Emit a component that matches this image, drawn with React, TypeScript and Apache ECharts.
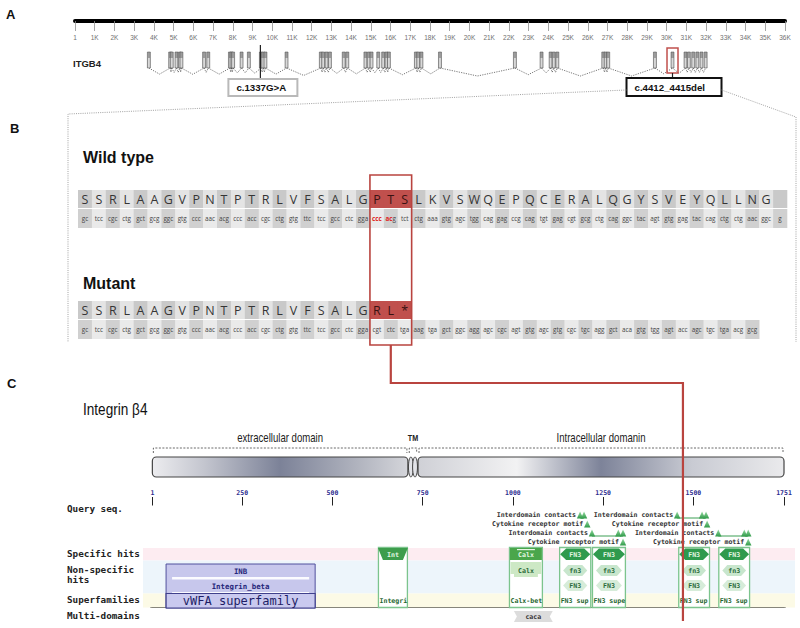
import React, { useEffect, useRef } from 'react';
import * as echarts from 'echarts';

// ---------------- Panel A: ITGB4 gene model (positions in bp) ----------------
const genomeLength = 36000;
const genomeTickStep = 1000;
const exonStarts = [
  3670, 4750, 4830, 5070, 5240, 5320, 6470, 6680, 7780, 7860, 7940, 8370, 8740,
  9350, 9470, 9580, 10650, 12390, 12510, 12680, 12850, 13550, 13730, 14650, 14820,
  14960, 15300, 15550, 15720, 15840, 17210, 17330, 17490, 18430, 22230, 23580,
  24040, 24200, 24380, 26710, 26830, 26960, 29330, 30220, 30880, 31050, 31270,
  31480, 31690, 31900,
];
const mutationPositions = [9400, 30220];
const mutationLabels = ['c.1337G>A', 'c.4412_4415del'];

// ---------------- Panel B: sequences ----------------
const wildTypeAA = [...'SSRLAAGVPNTPTRLVFSALGPTSLKVSWQEPQCERALQGYSVEYQLLNG', ''];
const wildTypeCodons = 'gc tcc cgc ctg gct gcg ggc gtg ccc aac acg ccc acc cgc ctg gtg ttc tcc gcc ctc gga ccc acg tct ctg aaa gtg agc tgg cag gag ccg cag tgt gag cgt gcg ctg cag ggc tac agt gtg gag tac cag ctg ctg aac ggc g'.split(' ');
const mutantAA = [...'SSRLAAGVPNTPTRLVFSALGRL*'];
const mutantCodons = 'gc tcc cgc ctg gct gcg ggc gtg ccc aac acg ccc acc cgc ctg gtg ttc tcc gcc ctc gga cgt ctc tga aag tga gct ggc agg agc cgc agt gtg agc gtg cgc tgc agg gct aca gtg tgg agt acc agc tgc tga acg gcg'.split(' ');
const changedColumns = [21, 22, 23];
const deletedCodonChars: Record<number, number> = { 21: 3, 22: 2 };

// ---------------- Panel C: protein ----------------
const proteinLength = 1751;
const proteinLabelTicks = [1, 250, 500, 750, 1000, 1250, 1500, 1751];
const proteinMinorStep = 50;
const mutationResidue = 1471;
const regionNames = ['extracellular domain', 'TM', 'Intracellular domanin'];
const regionStarts = [1, 710, 737];
const regionEnds = [709, 736, 1751];

const siteLabels = [
  'Interdomain contacts', 'Interdomain contacts',
  'Cytokine receptor motif', 'Cytokine receptor motif',
  'Interdomain contacts', 'Interdomain contacts',
  'Cytokine receptor motif', 'Cytokine receptor motif',
];
const siteRows = [0, 0, 1, 1, 2, 2, 3, 3];
const siteResidues = [
  [1186, 1197], [1455, 1524, 1535],
  [1206], [1538],
  [1219, 1292, 1305], [1569, 1641, 1652],
  [1305], [1652],
];

const specificLabels = ['Int', 'Calx', 'FN3', 'FN3', 'FN3', 'FN3'];
const specificShapes = ['trapezoid', 'rect', 'hexagon', 'hexagon', 'hexagon', 'hexagon'];
const specificStarts = [626, 989, 1128, 1219, 1458, 1569];
const specificEnds = [709, 1083, 1217, 1313, 1546, 1657];

const nonSpecificLabels = ['INB', 'Integrin_beta', 'Calx', 'fn3', 'FN3', 'fn3', 'FN3', 'fn3', 'FN3', 'fn3', 'FN3'];
const nonSpecificLanes = [0, 1, 0, 0, 1, 0, 1, 0, 1, 0, 1];
const nonSpecificStarts = [39, 39, 989, 1128, 1128, 1219, 1219, 1458, 1458, 1569, 1569];
const nonSpecificEnds = [452, 452, 1083, 1217, 1217, 1313, 1313, 1546, 1546, 1657, 1657];

const superfamilyLabels = ['vWFA superfamily', 'Integri', 'Calx-bet', 'FN3 sup', 'FN3 supe', 'FN3 sup', 'FN3 sup'];
const superfamilyStarts = [39, 626, 989, 1128, 1219, 1458, 1569];
const superfamilyEnds = [452, 709, 1083, 1217, 1313, 1546, 1657];

const multiDomainLabels = ['caca'];
const multiDomainStarts = [1011];
const multiDomainEnds = [1102];

// ---------------- layout / style ----------------
const FONT_MONO = '"DejaVu Sans Mono", monospace';
const FONT_SANS = '"Liberation Sans", Arial, sans-serif';
const FONT_SEQ = '"Open Sans", "Noto Sans", sans-serif';
const NARROW = 0.8;
const RED = '#c0504d';
const RED_LINE = '#b9443f';

const L = {
  exonTop: 52, exonBottom: 68, exonWidth: 3,
  boxBottom: 96,
  seqRows: [
    { top: 190, h: 18 }, { top: 209, h: 19 },
    { top: 301, h: 18 }, { top: 320, h: 19 },
  ],
  redFrameTop: 175, redFrameBottom: 345,
  connectorY: 383, connectorBottom: 621,
  frameLeft: 68, frameRight: 796, frameLeftTop: 114, frameRightTop: 117, frameBottom: 342, frameJoinY: 90,
  regionLabelY: 438, bracketY: 448, bracketFoot: 453, barTop: 457, barBottom: 477,
  siteRowY: [515, 524, 533, 542],
  specTop: 548, specBottom: 560,
  laneTop: [565, 580], laneBottom: [577, 592],
  sfTop: 594, sfBottom: 607.5,
  multiTop: 611, multiBottom: 622,
  columnTop: 547.5, columnBottom: 607.5,
  lavTop: 564, lavBottom: 608,
};

const MUT_STYLE = [
  { boxLeft: -32, boxWidth: 69, boxTop: 79, stroke: '#b9b9b9', lineFrom: 45, frame: false, dx: 0 },
  { boxLeft: -46, boxWidth: 95, boxTop: 78, stroke: '#111', lineFrom: 73, frame: true, dx: 1.5 },
];

const seqRowsData = [
  { cells: wildTypeAA, kind: 'aa', red: deletedCodonChars },
  { cells: wildTypeCodons, kind: 'codon', red: deletedCodonChars },
  { cells: mutantAA, kind: 'aa', red: {} as Record<number, number> },
  { cells: mutantCodons, kind: 'codon', red: {} as Record<number, number> },
];

const hexPts = (x1: number, x2: number, top: number, bot: number, tip: number) => {
  const mid = (top + bot) / 2;
  return [[x1, mid], [x1 + tip, top], [x2 - tip, top], [x2, mid], [x2 - tip, bot], [x1 + tip, bot]];
};

function buildOption() {
  const extraGrad = new echarts.graphic.LinearGradient(0, 0, 1, 0, [
    { offset: 0, color: '#ececef' }, { offset: 0.2, color: '#c4c6cf' },
    { offset: 0.5, color: '#7c8298' }, { offset: 0.8, color: '#b0b3be' }, { offset: 1, color: '#d4d5da' },
  ]);
  const intraGrad = new echarts.graphic.LinearGradient(0, 0, 1, 0, [
    { offset: 0, color: '#cfd0d6' }, { offset: 0.27, color: '#f2f2f3' },
    { offset: 0.5, color: '#7d8399' }, { offset: 0.75, color: '#c9cbd3' }, { offset: 1, color: '#eaeaec' },
  ]);

  const seqData: number[][] = [];
  seqRowsData.forEach((row, r) => row.cells.forEach((_, c) => seqData.push([c, r])));

  return {
    animation: false,
    backgroundColor: '#ffffff',
    grid: [
      { left: 75, width: 710, top: 0, height: 21 },
      { left: 78, width: 709, top: 0, height: 628 },
      { left: 152, width: 632, top: 505.5, height: 100 },
    ],
    xAxis: [
      {
        gridIndex: 0, type: 'value', min: 0, max: genomeLength, interval: genomeTickStep, position: 'bottom',
        axisLine: { lineStyle: { color: '#000', width: 4, cap: 'round' } },
        axisTick: { length: 10, lineStyle: { color: '#8f8f8f', width: 0.8 } },
        axisLabel: {
          fontSize: 6.5, color: '#707070', fontFamily: FONT_SANS, margin: 13,
          formatter: (v: number) => (v === 0 ? '1' : v / 1000 + 'K'),
        },
        splitLine: { show: false },
      },
      { gridIndex: 1, type: 'value', min: 0, max: 51, show: false },
      {
        gridIndex: 2, type: 'value', min: 0, max: proteinLength, interval: proteinMinorStep, position: 'top',
        axisLine: { lineStyle: { color: '#111', width: 5 } },
        axisTick: { length: 5.5, lineStyle: { color: '#222', width: 1 } },
        axisLabel: { show: false },
        splitLine: { show: false },
      },
      {
        gridIndex: 2, type: 'value', min: 0, max: proteinLength, position: 'top',
        axisLine: { show: false },
        axisTick: { show: true, length: 8.5, customValues: proteinLabelTicks, lineStyle: { color: '#222', width: 1 } },
        axisLabel: {
          customValues: proteinLabelTicks, fontSize: 6.5, color: '#2e2e8f', fontFamily: FONT_MONO,
          fontWeight: 'bold', margin: 9, formatter: (v: number) => String(v),
        },
        splitLine: { show: false },
      },
    ],
    yAxis: [
      { gridIndex: 0, type: 'value', min: 0, max: 1, show: false },
      { gridIndex: 1, type: 'value', min: 0, max: 1, show: false },
      { gridIndex: 2, type: 'value', min: 0, max: 1, show: false },
    ],
    series: [
      // introns
      {
        type: 'custom', xAxisIndex: 0, yAxisIndex: 0,
        data: exonStarts.slice(0, -1).map((s, i) => [s, exonStarts[i + 1]]),
        renderItem: (params: any, api: any) => {
          const x1 = api.coord([api.value(0), 0])[0] + L.exonWidth / 2;
          const x2 = api.coord([api.value(1), 0])[0] + L.exonWidth / 2;
          const depth = Math.min(8, 4 + (x2 - x1) * 0.1);
          return {
            type: 'polyline',
            shape: { points: [[x1, L.exonBottom], [(x1 + x2) / 2, L.exonBottom + depth], [x2, L.exonBottom]] },
            style: { stroke: '#555', lineWidth: 0.8, lineDash: [1.2, 1.2], fill: 'none' },
          };
        },
      },
      // exons
      {
        type: 'custom', xAxisIndex: 0, yAxisIndex: 0,
        data: exonStarts.map((s, i) => [s, i]),
        renderItem: (params: any, api: any) => {
          const x = api.coord([api.value(0), 0])[0];
          return {
            type: 'group',
            children: [
              {
                type: 'rect',
                shape: { x, y: L.exonTop, width: L.exonWidth, height: L.exonBottom - L.exonTop },
                style: { fill: '#9c9c9c', stroke: '#4a4a4a', lineWidth: 0.5 },
              },
              {
                type: 'rect',
                shape: { x: x + 0.6, y: L.exonTop + 6, width: L.exonWidth - 1.2, height: L.exonBottom - L.exonTop - 6.5 },
                style: { fill: '#d9d9d9' },
              },
            ],
          };
        },
      },
      // mutation markers
      {
        type: 'custom', xAxisIndex: 0, yAxisIndex: 0,
        data: mutationPositions.map((p, i) => [p, i]),
        renderItem: (params: any, api: any) => {
          const i = params.dataIndex;
          const st = MUT_STYLE[i];
          const x = api.coord([api.value(0), 0])[0] + st.dx;
          const children: any[] = [];
          if (st.frame) {
            children.push({
              type: 'rect', shape: { x: x - 5.5, y: 48, width: 11, height: 25 },
              style: { fill: 'none', stroke: RED, lineWidth: 1.5 },
            });
          }
          children.push({
            type: 'line', shape: { x1: x, y1: st.lineFrom, x2: x, y2: st.boxTop },
            style: { stroke: '#222', lineWidth: 1.2 },
          });
          children.push({
            type: 'rect',
            shape: { x: x + st.boxLeft, y: st.boxTop, width: st.boxWidth, height: L.boxBottom - st.boxTop },
            style: { fill: '#fff', stroke: st.stroke, lineWidth: 2 },
          });
          children.push({
            type: 'text',
            style: {
              text: mutationLabels[i], x: x + st.boxLeft + 8, y: (st.boxTop + L.boxBottom) / 2,
              align: 'left', verticalAlign: 'middle', fill: '#111',
              fontSize: 9.7, fontWeight: 'bold', fontFamily: FONT_SANS,
            },
          });
          return { type: 'group', children };
        },
      },
      // sequence cells
      {
        type: 'custom', xAxisIndex: 1, yAxisIndex: 1,
        data: seqData,
        renderItem: (params: any, api: any) => {
          const c = api.value(0) as number;
          const r = api.value(1) as number;
          const row = seqRowsData[r];
          const lay = L.seqRows[r];
          const x1 = api.coord([c, 0])[0];
          const x2 = api.coord([c + 1, 0])[0];
          const isAA = row.kind === 'aa';
          const changed = isAA && changedColumns.includes(c);
          const fill = changed ? RED : isAA ? (c % 2 === 0 ? '#c9c9c9' : '#e4e4e4') : (c % 2 === 0 ? '#d0d0d0' : '#eaeaea');
          const text = row.cells[c];
          const cx = (x1 + x2) / 2;
          const cy = lay.top + lay.h / 2;
          let textStyle: any;
          if (isAA) {
            textStyle = {
              text, x: cx, y: cy + 0.5, align: 'center', verticalAlign: 'middle',
              fill: changed ? '#3a1212' : '#353535', fontSize: 12.5, fontFamily: FONT_SEQ,
            };
          } else {
            const nRed = (row.red as any)[c] || 0;
            if (nRed > 0) {
              const a = text.slice(0, nRed);
              const b = text.slice(nRed);
              textStyle = {
                text: `{r|${a}}` + (b ? `{n|${b}}` : ''), x: cx, y: cy, align: 'center', verticalAlign: 'middle',
                rich: {
                  r: { fill: '#e0221b', fontSize: 6.3, fontFamily: FONT_SEQ, fontWeight: 'bold' },
                  n: { fill: '#444', fontSize: 6.3, fontFamily: FONT_SEQ },
                },
              };
            } else {
              textStyle = {
                text, x: cx, y: cy, align: 'center', verticalAlign: 'middle',
                fill: '#444', fontSize: 6.3, fontFamily: FONT_SEQ,
              };
            }
          }
          return {
            type: 'group',
            children: [
              { type: 'rect', shape: { x: x1, y: lay.top, width: x2 - x1 + 0.3, height: lay.h }, style: { fill } },
              { type: 'text', style: textStyle },
            ],
          };
        },
      },
      // red frame around changed columns
      {
        type: 'custom', xAxisIndex: 1, yAxisIndex: 1,
        data: [[changedColumns[0], changedColumns[changedColumns.length - 1] + 1]],
        renderItem: (params: any, api: any) => {
          const x1 = api.coord([api.value(0), 0])[0];
          const x2 = api.coord([api.value(1), 0])[0];
          return {
            type: 'rect', shape: { x: x1, y: L.redFrameTop, width: x2 - x1, height: L.redFrameBottom - L.redFrameTop },
            style: { fill: 'none', stroke: RED_LINE, lineWidth: 1.6 }, z2: 10,
          };
        },
      },
      // protein regions (bar + brackets + labels)
      {
        type: 'custom', xAxisIndex: 2, yAxisIndex: 2,
        data: regionStarts.map((s, i) => [s, regionEnds[i]]),
        renderItem: (params: any, api: any) => {
          const i = params.dataIndex;
          const xs = api.coord([api.value(0), 0])[0];
          const xe = api.coord([api.value(1), 0])[0];
          const children: any[] = [];
          children.push({
            type: 'polyline',
            shape: { points: [[xs + 1, L.bracketFoot], [xs + 1, L.bracketY], [xe - 1, L.bracketY], [xe - 1, L.bracketFoot]] },
            style: { stroke: '#444', lineWidth: 0.8, lineDash: [2, 1.5], fill: 'none' },
          });
          children.push({
            type: 'text',
            x: (xs + xe) / 2, y: L.regionLabelY, scaleX: NARROW,
            style: {
              text: regionNames[i], x: 0, y: 0, align: 'center', verticalAlign: 'middle',
              fontSize: i === 1 ? 9 : 12, fontWeight: i === 1 ? 'bold' : 'normal', fontFamily: FONT_SANS, fill: '#222',
            },
          });
          const cy = (L.barTop + L.barBottom) / 2;
          const ry = (L.barBottom - L.barTop) / 2;
          if (i === 1) {
            const w = xe - xs;
            [0.28, 0.72].forEach((f) => children.push({
              type: 'ellipse', shape: { cx: xs + w * f, cy, rx: w * 0.26, ry },
              style: { fill: '#e2e3e8', stroke: '#444', lineWidth: 1 },
            }));
          } else {
            children.push({
              type: 'rect',
              shape: { x: xs, y: L.barTop, width: xe - xs, height: L.barBottom - L.barTop, r: 4 },
              style: { fill: i === 0 ? extraGrad : intraGrad, stroke: '#444', lineWidth: 1.2 },
            });
          }
          return { type: 'group', children };
        },
      },
      // track bands
      {
        type: 'custom', xAxisIndex: 2, yAxisIndex: 2,
        data: [[0, proteinLength]],
        renderItem: (params: any, api: any) => {
          const x1 = api.coord([api.value(0), 0])[0] - 9;
          const x2 = api.coord([api.value(1), 0])[0] + 11;
          const band = (y1: number, y2: number, fill: string) => ({
            type: 'rect', shape: { x: x1, y: y1, width: x2 - x1, height: y2 - y1 }, style: { fill },
          });
          return {
            type: 'group',
            children: [
              band(L.specTop, L.specBottom + 0.5, '#fdecf1'),
              band(L.specBottom + 0.5, L.sfTop - 0.5, '#edf5fb'),
              band(L.sfTop - 0.5, L.sfBottom, '#fcfae6'),
            ],
          };
        },
      },
      // superfamilies (+ hit columns)
      {
        type: 'custom', xAxisIndex: 2, yAxisIndex: 2,
        data: superfamilyStarts.map((s, i) => [s, superfamilyEnds[i]]),
        renderItem: (params: any, api: any) => {
          const i = params.dataIndex;
          const x1 = api.coord([api.value(0), 0])[0];
          const x2 = api.coord([api.value(1), 0])[0];
          const label = superfamilyLabels[i];
          if (i === 0) {
            return {
              type: 'group',
              children: [
                { type: 'rect', shape: { x: x1, y: L.lavTop, width: x2 - x1, height: L.lavBottom - L.lavTop }, style: { fill: '#c7c7ec', stroke: '#50509c', lineWidth: 1 } },
                { type: 'rect', shape: { x: x1 + 6, y: L.laneBottom[0], width: x2 - x1 - 12, height: 2.5 }, style: { fill: '#fbfbff' } },
                { type: 'rect', shape: { x: x1 + 6, y: L.laneBottom[1], width: x2 - x1 - 12, height: 1.5 }, style: { fill: '#fbfbff' } },
                { type: 'rect', shape: { x: x1, y: L.sfTop - 0.5, width: x2 - x1, height: L.lavBottom - L.sfTop + 0.5 }, style: { fill: '#c9c9ef', stroke: '#40408c', lineWidth: 1.2 } },
                {
                  type: 'text', style: {
                    text: label, x: (x1 + x2) / 2, y: (L.sfTop + L.lavBottom) / 2, align: 'center', verticalAlign: 'middle',
                    fontSize: 12, fontFamily: FONT_MONO, fill: '#1e1e66',
                  },
                },
              ],
            };
          }
          return {
            type: 'group',
            children: [
              { type: 'rect', shape: { x: x1 + 0.5, y: L.columnTop, width: x2 - x1 - 1, height: L.columnBottom - L.columnTop }, style: { fill: '#ffffff', stroke: '#7cc48d', lineWidth: 1.3 } },
              {
                type: 'text', style: {
                  text: label, x: x1 + 1.5, y: (L.sfTop + L.sfBottom) / 2, align: 'left', verticalAlign: 'middle',
                  fontSize: 6.6, fontWeight: 'bold', fontFamily: FONT_MONO, fill: '#1f6630',
                },
              },
            ],
          };
        },
      },
      // specific hits
      {
        type: 'custom', xAxisIndex: 2, yAxisIndex: 2,
        data: specificStarts.map((s, i) => [s, specificEnds[i]]),
        renderItem: (params: any, api: any) => {
          const i = params.dataIndex;
          const x1 = api.coord([api.value(0), 0])[0];
          const x2 = api.coord([api.value(1), 0])[0];
          const top = L.specTop, bot = L.specBottom;
          const shape = specificShapes[i];
          const children: any[] = [];
          if (shape === 'trapezoid') {
            children.push({ type: 'polygon', shape: { points: [[x1, top], [x2, top], [x2 - 5, bot], [x1 + 5, bot]] }, style: { fill: '#3d9d4c' } });
          } else if (shape === 'hexagon') {
            children.push({ type: 'polygon', shape: { points: hexPts(x1 + 1, x2 - 1, top + 0.5, bot, 6) }, style: { fill: '#2f9a4d' } });
          } else {
            children.push({ type: 'rect', shape: { x: x1 + 1, y: top, width: x2 - x1 - 2, height: bot - top }, style: { fill: '#4aa64b' } });
            children.push({ type: 'rect', shape: { x: x1 + 8, y: top + 1, width: x2 - x1 - 16, height: 1.2 }, style: { fill: '#e8f5e6' } });
          }
          children.push({
            type: 'text', style: {
              text: specificLabels[i], x: (x1 + x2) / 2, y: (top + bot) / 2 + 0.5, align: 'center', verticalAlign: 'middle',
              fontSize: 6.6, fontWeight: 'bold', fontFamily: FONT_MONO, fill: '#e4f6e4',
            },
          });
          return { type: 'group', children };
        },
      },
      // non-specific hits
      {
        type: 'custom', xAxisIndex: 2, yAxisIndex: 2,
        data: nonSpecificStarts.map((s, i) => [s, nonSpecificEnds[i]]),
        renderItem: (params: any, api: any) => {
          const i = params.dataIndex;
          const x1 = api.coord([api.value(0), 0])[0];
          const x2 = api.coord([api.value(1), 0])[0];
          const lane = nonSpecificLanes[i];
          const label = nonSpecificLabels[i];
          const top = L.laneTop[lane], bot = L.laneBottom[lane];
          const children: any[] = [];
          let textFill = '#2b6a39';
          let fontSize = 6.6;
          if (label === 'INB' || label === 'Integrin_beta') {
            textFill = '#26267a';
            fontSize = 7.4;
          } else if (label === 'Calx') {
            const t = L.specBottom + 2;
            children.push({
              type: 'polygon',
              shape: { points: [[x1 + 1.5, t], [x2 - 1.5, t], [x2 - 1.5, bot - 3], [x2 - 5, bot - 3], [x2 - 5, bot], [x1 + 5, bot], [x1 + 5, bot - 3], [x1 + 1.5, bot - 3]] },
              style: { fill: '#cde8c5' },
            });
          } else {
            children.push({
              type: 'polygon', shape: { points: hexPts(x1 + 4, x2 - 4, top, bot - 1, 5) },
              style: { fill: lane === 0 ? '#c8e6cd' : '#d6ecd9' },
            });
          }
          children.push({
            type: 'text', style: {
              text: label, x: (x1 + x2) / 2, y: (top + bot) / 2, align: 'center', verticalAlign: 'middle',
              fontSize, fontWeight: 'bold', fontFamily: FONT_MONO, fill: textFill,
            },
          });
          return { type: 'group', children };
        },
      },
      // multi-domains
      {
        type: 'custom', xAxisIndex: 2, yAxisIndex: 2,
        data: multiDomainStarts.map((s, i) => [s, multiDomainEnds[i]]),
        renderItem: (params: any, api: any) => {
          const i = params.dataIndex;
          const x1 = api.coord([api.value(0), 0])[0];
          const x2 = api.coord([api.value(1), 0])[0];
          const t = L.multiTop, b = L.multiBottom, m = (t + b) / 2;
          return {
            type: 'group',
            children: [
              { type: 'polygon', shape: { points: [[x1 - 3, t], [x2 + 3, t], [x2, m], [x2 + 3, b], [x1 - 3, b], [x1, m]] }, style: { fill: '#dcdcdc' } },
              {
                type: 'text', style: {
                  text: multiDomainLabels[i], x: (x1 + x2) / 2, y: m, align: 'center', verticalAlign: 'middle',
                  fontSize: 6.6, fontWeight: 'bold', fontFamily: FONT_MONO, fill: '#333',
                },
              },
            ],
          };
        },
      },
      // conserved site annotations
      {
        type: 'custom', xAxisIndex: 2, yAxisIndex: 2,
        data: siteResidues.map((r, i) => [r[0], i]),
        renderItem: (params: any, api: any) => {
          const i = params.dataIndex;
          const xs = siteResidues[i].map((r) => api.coord([r, 0])[0]);
          const yc = L.siteRowY[siteRows[i]];
          const base = yc + 3.5;
          const children: any[] = [
            {
              type: 'text', style: {
                text: siteLabels[i], x: xs[0] - 4, y: yc, align: 'right', verticalAlign: 'middle',
                fontSize: 6.6, fontWeight: 'bold', fontFamily: FONT_MONO, fill: '#333',
              },
            },
          ];
          if (xs.length > 1) {
            children.push({ type: 'line', shape: { x1: xs[0], y1: base - 0.5, x2: xs[xs.length - 1], y2: base - 0.5 }, style: { stroke: '#3c9f55', lineWidth: 1 } });
          }
          xs.forEach((x) => children.push({
            type: 'polygon', shape: { points: [[x - 3.2, base], [x + 3.2, base], [x, base - 7]] },
            style: {
              fill: new echarts.graphic.LinearGradient(0, 0, 0, 1, [
                { offset: 0, color: '#9bdca6' }, { offset: 1, color: '#2f9a48' },
              ]),
            },
          }));
          return { type: 'group', children };
        },
      },
    ],
  };
}

export default function App() {
  const ref = useRef<HTMLDivElement>(null);
  useEffect(() => {
    if (!ref.current) return;
    const chart = echarts.init(ref.current, null, { renderer: 'svg', width: 800, height: 628 });
    chart.setOption(buildOption() as any);

    const px = (axis: number, v: number) => chart.convertToPixel({ xAxisIndex: axis } as any, v) as unknown as number;
    const mut = MUT_STYLE[1];
    const mx = px(0, mutationPositions[1]) + mut.dx;
    const boxL = mx + mut.boxLeft;
    const boxR = boxL + mut.boxWidth;
    const cx = px(1, (changedColumns[0] + changedColumns[changedColumns.length - 1] + 1) / 2);
    const rx = px(2, mutationResidue);

    const txt = (text: string, x: number, y: number, font: string, extra: any = {}, scaleX = 1) => ({
      type: 'text', z: 50, x, y, scaleX,
      style: { text, x: 0, y: 0, font, fill: '#111', align: 'left', verticalAlign: 'middle', ...extra },
    });
    const panelFont = 'bold 13px "Liberation Sans", Arial, sans-serif';
    const trackFont = 'bold 9.3px "DejaVu Sans Mono", monospace';

    chart.setOption({
      graphic: [
        txt('A', 6, 14, panelFont),
        txt('B', 10, 128, panelFont),
        txt('C', 7, 383, panelFont),
        txt('ITGB4', 73, 63, 'bold 9.5px "Liberation Sans", Arial, sans-serif', { fill: '#222' }),
        txt('Wild type', 83, 157, 'bold 16px "Liberation Sans", Arial, sans-serif'),
        txt('Mutant', 83, 283, 'bold 16px "Liberation Sans", Arial, sans-serif'),
        txt('Integrin β4', 83, 409, '17px "Liberation Sans", Arial, sans-serif', {}, NARROW),
        txt('Query seq.', 67, 508, trackFont, { fill: '#222' }),
        txt('Specific hits', 67, 553, trackFont, { fill: '#222' }),
        txt('Non-specific', 67, 569, trackFont, { fill: '#222' }),
        txt('hits', 67, 579, trackFont, { fill: '#222' }),
        txt('Superfamilies', 67, 599, trackFont, { fill: '#222' }),
        txt('Multi-domains', 67, 615, trackFont, { fill: '#222' }),
        {
          type: 'polyline', z: 40,
          shape: { points: [[boxL, L.frameJoinY], [L.frameLeft, L.frameLeftTop], [L.frameLeft, L.frameBottom]] },
          style: { stroke: '#8a8a8a', lineWidth: 0.8, lineDash: [1, 1.2], fill: 'none' },
        },
        {
          type: 'polyline', z: 40,
          shape: { points: [[boxR, L.frameJoinY], [L.frameRight, L.frameRightTop], [L.frameRight, L.frameBottom]] },
          style: { stroke: '#8a8a8a', lineWidth: 0.8, lineDash: [1, 1.2], fill: 'none' },
        },
        {
          type: 'polyline', z: 100,
          shape: { points: [[cx, L.redFrameBottom], [cx, L.connectorY], [rx, L.connectorY], [rx, L.connectorBottom]] },
          style: { stroke: RED_LINE, lineWidth: 2.2, fill: 'none' },
        },
      ],
    } as any);

    return () => chart.dispose();
  }, []);
  return (
    <div
      ref={ref}
      style={{ position: 'absolute', left: 0, top: 0, width: 800, height: 628, background: '#fff' }}
    />
  );
}
